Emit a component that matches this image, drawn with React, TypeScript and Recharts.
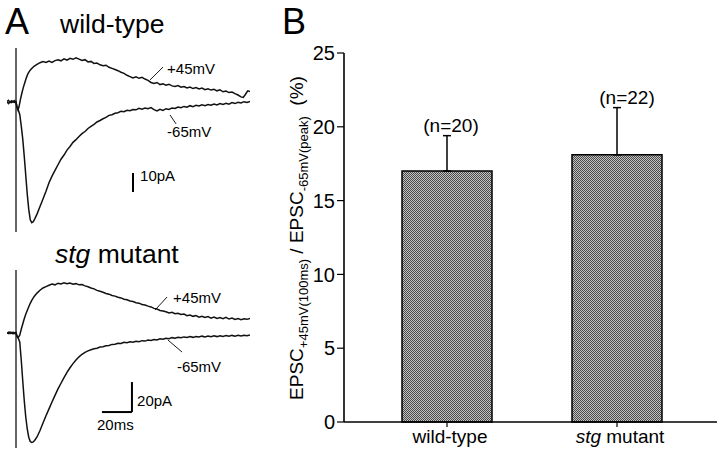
import React from 'react';
import {
  LineChart,
  Line,
  XAxis,
  YAxis,
  ReferenceLine,
  ReferenceDot,
  BarChart,
  Bar,
  ErrorBar,
} from 'recharts';

const FONT = '"Liberation Sans", Arial, Helvetica, sans-serif';

// ---------- Panel A: EPSC traces, [time (ms), current (pA)] ----------
const wtPlus45: [number, number][] = [
  [-6, 0.5], [-5, -0.3], [-4, 0.8], [-3, 0.2], [-2, 1.0], [-1, 0.3], [0, 0.6], [0.7, -2.5], [1.3, -3.7],
  [2, -2], [3, 2], [4, 5.5], [5, 8.5], [6, 11], [7, 13.5], [8, 15.5], [9, 16.8], [10, 17.8], [12, 19.3],
  [14, 20.3], [16, 21.2], [18, 21.8], [20, 21.3], [22, 22.1], [24, 21.4], [26, 22.3], [28, 22.8], [30, 22.2],
  [32, 23.2], [34, 22.6], [36, 23.5], [38, 23.0], [40, 23.8], [42, 23.1], [44, 22.4], [46, 22.8], [48, 21.6],
  [50, 21.9], [52, 20.8], [54, 21.0], [56, 20.1], [58, 19.6], [60, 19.9], [62, 18.8], [64, 18.2], [66, 17.6],
  [68, 17.0], [70, 16.2], [72, 15.6], [74, 14.6], [76, 13.9], [78, 13.2], [80, 13.8], [82, 13.0], [84, 13.5],
  [86, 12.6], [88, 11.9], [90, 10.8], [92, 10.3], [94, 10.8], [96, 9.7], [98, 10.1], [100, 9.4], [102, 9.9],
  [104, 9.0], [106, 8.7], [108, 9.2], [110, 8.3], [112, 8.7], [114, 7.9], [116, 8.4], [118, 7.6], [120, 8.1],
  [122, 7.4], [124, 7.9], [126, 7.0], [128, 7.5], [130, 6.8], [132, 7.2], [134, 6.4], [136, 6.9], [138, 5.9],
  [140, 6.3], [142, 5.5], [144, 5.8], [146, 4.9], [148, 4.2], [150, 3.2], [151.5, 2.9], [153, 4.6], [154.5, 6.4],
  [156, 6.0],
];

const wtMinus65: [number, number][] = [
  [-6, 0.8], [-5, 1.4], [-4, 0.2], [-3, 1.1], [-2, 0.4], [-1, 1.2], [0, 0.2], [0.7, -2], [1.5, -3.5],
  [2.5, -6], [3.5, -12], [4.5, -19], [5.5, -28], [6.5, -38], [7.5, -48], [8.5, -56], [9.5, -61.5], [10.5, -63],
  [11.5, -62.5], [12.5, -61], [14, -58.5], [16, -54.5], [18, -50.5], [20, -46.5], [22, -42], [24, -38.5],
  [26, -35.5], [28, -32.5], [30, -29.6], [32, -27.4], [34, -24.8], [36, -22.9], [38, -20.7], [40, -19.3],
  [42, -17.6], [44, -16.1], [46, -15.0], [48, -13.4], [50, -12.3], [52, -11.2], [54, -10.0], [56, -9.2],
  [58, -8.3], [60, -7.6], [62, -6.5], [64, -6.2], [66, -5.4], [68, -5.1], [70, -4.3], [72, -4.6], [74, -3.8],
  [76, -4.1], [78, -3.4], [80, -3.6], [82, -2.8], [84, -3.3], [86, -2.7], [88, -3.0], [90, -2.4], [92, -3.5],
  [94, -4.2], [96, -3.3], [98, -3.9], [100, -3.0], [102, -3.4], [104, -2.6], [106, -2.9], [108, -2.1],
  [110, -2.5], [112, -1.8], [114, -2.2], [116, -1.4], [118, -1.9], [120, -1.2], [122, -1.6], [124, -0.9],
  [126, -1.4], [128, -0.8], [130, -1.2], [132, -0.5], [134, -1.0], [136, -0.3], [138, -0.8], [140, -0.1],
  [142, -0.6], [144, 0.2], [146, -0.3], [148, 0.4], [150, 0.0], [152, 0.7], [154, 0.3], [156, 0.8],
];

const stgPlus45: [number, number][] = [
  [-6, 0.3], [-5, -0.4], [-4, 0.6], [-3, -0.2], [-2, 0.5], [-1, -0.3], [0, 0.4], [0.7, -2], [1.5, -3],
  [2.5, -1.5], [3.5, 2.5], [4.5, 6], [5.5, 9.5], [6.5, 12.5], [7.5, 15], [8.5, 17.5], [9.5, 19.8], [10.5, 21.8],
  [12, 24.2], [14, 26.6], [16, 28.5], [18, 30.0], [20, 30.9], [22, 31.8], [24, 32.6], [26, 32.1], [28, 33.2],
  [30, 32.7], [32, 33.4], [34, 32.8], [36, 33.3], [38, 32.5], [40, 32.9], [42, 32.1], [44, 32.3], [46, 31.4],
  [48, 30.8], [50, 30.0], [52, 29.4], [54, 28.4], [56, 27.8], [58, 27.2], [60, 26.3], [62, 25.9], [64, 25.0],
  [66, 24.6], [68, 23.8], [70, 23.4], [72, 22.5], [74, 22.2], [76, 21.3], [78, 21.0], [80, 20.2], [82, 19.9],
  [84, 19.0], [86, 18.7], [88, 17.9], [90, 17.4], [92, 16.4], [94, 16.0], [96, 15.0], [98, 14.7], [100, 14.2],
  [102, 13.4], [104, 13.8], [106, 12.9], [108, 13.2], [110, 12.3], [112, 12.6], [114, 11.5], [116, 12.0],
  [118, 11.1], [120, 11.6], [122, 10.6], [124, 11.2], [126, 10.3], [128, 10.9], [130, 9.9], [132, 10.6],
  [134, 9.7], [136, 10.3], [138, 9.5], [140, 10.4], [142, 9.3], [144, 9.9], [146, 9.0], [148, 9.6], [150, 8.9],
  [152, 9.5], [154, 9.1], [156, 9.7],
];

const stgMinus65: [number, number][] = [
  [-6, -0.3], [-5, 0.5], [-4, -0.4], [-3, 0.3], [-2, -0.5], [-1, 0.2], [0, -0.4], [0.7, -2.5], [1.5, -3.5],
  [2.5, -6], [3.5, -18], [4.5, -32], [5.5, -45], [6.5, -56], [7.5, -64], [8.5, -69.5], [9.5, -72.3], [10.5, -73],
  [11.5, -72.6], [12.5, -71.5], [14, -69.3], [16, -65], [18, -60], [20, -55.2], [22, -50.6], [24, -46],
  [26, -41.6], [28, -37.3], [30, -33.5], [32, -29.8], [34, -26.2], [36, -23.2], [38, -20.4], [40, -18.0],
  [42, -15.9], [44, -14.2], [46, -12.9], [48, -11.9], [50, -11.2], [52, -10.5], [54, -10.1], [56, -9.4],
  [58, -9.1], [60, -8.5], [62, -8.3], [64, -7.6], [66, -7.5], [68, -6.8], [70, -7.0], [72, -6.2], [74, -6.5],
  [76, -5.9], [78, -6.2], [80, -5.5], [82, -5.8], [84, -5.1], [86, -5.4], [88, -4.7], [90, -5.0], [92, -4.3],
  [94, -4.6], [96, -3.9], [98, -4.2], [100, -3.5], [102, -3.8], [104, -3.1], [106, -3.5], [108, -2.8],
  [110, -3.2], [112, -2.6], [114, -3.0], [116, -2.4], [118, -2.9], [120, -2.3], [122, -2.7], [124, -2.1],
  [126, -2.6], [128, -2.0], [130, -2.5], [132, -1.9], [134, -2.4], [136, -1.8], [138, -2.3], [140, -1.7],
  [142, -2.2], [144, -1.6], [146, -2.1], [148, -1.5], [150, -2.0], [152, -1.5], [154, -1.9], [156, -1.4],
];

const traceTimeDomain: [number, number] = [-6, 156];
const wtCurrentDomain: [number, number] = [-70, 30];
const stgCurrentDomain: [number, number] = [-77, 43];

// annotations in data units (ms, pA)
const wtAnno = {
  artifact: [[0, 28.9], [0, -67.9]],
  lead45: [[89.3, 12.1], [98, 18.9]],
  lead65: [[102.7, -6.3], [106.7, -11]],
  scaleV: [[78, -36.8], [78, -46.8]],
  label45: [100.7, 15.3],
  label65: [100.7, -17.9],
  labelScale: [82.7, -41],
};
const stgAnno = {
  artifact: [[0, 42], [0, -76.7]],
  lead45: [[92.7, 15.3], [100.7, 24]],
  lead65: [[101.3, -4.7], [110.7, -12.7]],
  scaleV: [[77.3, -32.7], [77.3, -52.7]],
  scaleH: [[57.3, -52.7], [77.3, -52.7]],
  label45: [104.7, 20],
  label65: [107.3, -26],
  labelScaleV: [80.7, -48.7],
  labelScaleH: [54, -64.7],
};

// ---------- Panel B: bar chart ----------
const categories = ['wild-type', 'stg mutant'];
const ratioMeans = [17.0, 18.1];
const ratioSEM = [2.4, 3.2];
const nLabels = ['(n=20)', '(n=22)'];
const nLabelDx = [4, 10];
const yTicks = [0, 5, 10, 15, 20, 25];

const barData = categories.map((c, i) => ({
  cat: c,
  mean: ratioMeans[i],
  err: [0, ratioSEM[i]],
  top: ratioMeans[i] + ratioSEM[i],
  n: nLabels[i],
  dx: nLabelDx[i],
}));

const toPts = (arr: [number, number][]) => arr.map(([t, i]) => ({ t, i }));

const textShape = (txt: string, size: number) => (p: any) => (
  <text x={p.cx} y={p.cy} fontSize={size} fontFamily={FONT} fill="#000">
    {txt}
  </text>
);

const seg = (s: number[][]) => [
  { x: s[0][0], y: s[0][1] },
  { x: s[1][0], y: s[1][1] },
];

function TracePanel(props: {
  plus: [number, number][];
  minus: [number, number][];
  domainY: [number, number];
  top: number;
  bottom: number;
  anno: any;
  scaleText: string;
  timeText?: string;
}) {
  const { plus, minus, domainY, top, bottom, anno } = props;
  return (
    <LineChart width={260} height={454} margin={{ top, bottom, left: 7, right: 10 }}>
      <XAxis type="number" dataKey="t" domain={traceTimeDomain} hide allowDataOverflow />
      <YAxis type="number" domain={domainY} hide allowDataOverflow />
      <ReferenceLine segment={seg(anno.artifact)} stroke="#000" strokeWidth={1.2} ifOverflow="visible" />
      <Line data={toPts(plus)} dataKey="i" type="linear" dot={false} stroke="#111" strokeWidth={1.5} isAnimationActive={false} />
      <Line data={toPts(minus)} dataKey="i" type="linear" dot={false} stroke="#111" strokeWidth={1.5} isAnimationActive={false} />
      <ReferenceLine segment={seg(anno.lead45)} stroke="#000" strokeWidth={0.9} ifOverflow="visible" />
      <ReferenceLine segment={seg(anno.lead65)} stroke="#000" strokeWidth={0.9} ifOverflow="visible" />
      <ReferenceLine segment={seg(anno.scaleV)} stroke="#000" strokeWidth={2} ifOverflow="visible" />
      {anno.scaleH && (
        <ReferenceLine segment={seg(anno.scaleH)} stroke="#000" strokeWidth={2} ifOverflow="visible" />
      )}
      <ReferenceDot x={anno.label45[0]} y={anno.label45[1]} r={0} ifOverflow="visible" shape={textShape('+45mV', 15)} />
      <ReferenceDot x={anno.label65[0]} y={anno.label65[1]} r={0} ifOverflow="visible" shape={textShape('-65mV', 15)} />
      {anno.labelScale && (
        <ReferenceDot x={anno.labelScale[0]} y={anno.labelScale[1]} r={0} ifOverflow="visible" shape={textShape(props.scaleText, 15)} />
      )}
      {anno.labelScaleV && (
        <ReferenceDot x={anno.labelScaleV[0]} y={anno.labelScaleV[1]} r={0} ifOverflow="visible" shape={textShape(props.scaleText, 15)} />
      )}
      {anno.labelScaleH && props.timeText && (
        <ReferenceDot x={anno.labelScaleH[0]} y={anno.labelScaleH[1]} r={0} ifOverflow="visible" shape={textShape(props.timeText, 15)} />
      )}
    </LineChart>
  );
}

const XTick = (p: any) => {
  const v = p.payload.value as string;
  const common = {
    x: p.x + 3,
    y: p.y,
    dy: 14,
    textAnchor: 'middle' as const,
    fontSize: 19,
    fontFamily: FONT,
    fill: '#000',
  };
  if (v.startsWith('stg')) {
    return (
      <text {...common}>
        <tspan fontStyle="italic">stg</tspan>
        <tspan> mutant</tspan>
      </text>
    );
  }
  return <text {...common}>{v}</text>;
};

const nLabelShape = (txt: string, dx: number) => (p: any) => (
  <text x={p.cx + dx} y={p.cy - 4} textAnchor="middle" fontSize={19} fontFamily={FONT} fill="#000">
    {txt}
  </text>
);

export default function App() {
  return (
    <div
      style={{
        position: 'absolute',
        left: 0,
        top: 0,
        width: 720,
        height: 454,
        background: '#fff',
        overflow: 'hidden',
        fontFamily: FONT,
      }}
    >
      <div style={{ position: 'absolute', left: 0, top: 0 }}>
        <TracePanel plus={wtPlus45} minus={wtMinus65} domainY={wtCurrentDomain} top={46} bottom={218} anno={wtAnno} scaleText="10pA" />
      </div>
      <div style={{ position: 'absolute', left: 0, top: 0 }}>
        <TracePanel
          plus={stgPlus45}
          minus={stgMinus65}
          domainY={stgCurrentDomain}
          top={268.5}
          bottom={5.5}
          anno={stgAnno}
          scaleText="20pA"
          timeText="20ms"
        />
      </div>
      <div style={{ position: 'absolute', left: 250, top: 0 }}>
        <BarChart width={470} height={454} data={barData} margin={{ top: 53, right: 3, bottom: 2, left: 0 }}>
          <defs>
            <pattern id="dither" width="2" height="2" patternUnits="userSpaceOnUse">
              <rect width="2" height="2" fill="#c2c2c2" />
              <rect width="1" height="1" fill="#4a4a4a" />
              <rect x="1" y="1" width="1" height="1" fill="#4a4a4a" />
            </pattern>
          </defs>
          <XAxis
            dataKey="cat"
            type="category"
            height={30}
            padding={{ left: 18, right: 15 }}
            axisLine={{ stroke: '#000', strokeWidth: 1.6 }}
            tickLine={{ stroke: '#000', strokeWidth: 1.2 }}
            tickSize={5}
            tickMargin={2}
            tick={<XTick />}
            interval={0}
          />
          <YAxis
            type="number"
            domain={[0, 25]}
            ticks={yTicks}
            width={94}
            axisLine={{ stroke: '#000', strokeWidth: 1.6 }}
            tickLine={{ stroke: '#000', strokeWidth: 1.2 }}
            tickSize={7}
            tickMargin={2}
            tick={{ fontSize: 20, fill: '#000', fontFamily: FONT }}
            allowDecimals={false}
          />
          <Bar dataKey="mean" barSize={90} fill="url(#dither)" stroke="#000" strokeWidth={1.5} isAnimationActive={false}>
            <ErrorBar dataKey="err" width={4} stroke="#000" strokeWidth={1.5} direction="y" />
          </Bar>
          {barData.map((d) => (
            <ReferenceDot key={d.cat} x={d.cat} y={d.top} r={0} ifOverflow="visible" shape={nLabelShape(d.n, d.dx)} />
          ))}
        </BarChart>
      </div>
      <svg
        width={720}
        height={454}
        style={{ position: 'absolute', left: 0, top: 0, pointerEvents: 'none' }}
      >
        <g fontFamily={FONT} fill="#000">
          <text x={5} y={34} fontSize={36}>A</text>
          <text x={60} y={33} fontSize={26.5}>wild-type</text>
          <text x={55} y={263} fontSize={26.5}>
            <tspan fontStyle="italic">stg</tspan>
            <tspan> mutant</tspan>
          </text>
          <text x={282} y={34} fontSize={36}>B</text>
          <text transform="translate(303,238) rotate(-90)" textAnchor="middle" fontSize={19}>
            <tspan>EPSC</tspan>
            <tspan fontSize={13} dy={5}>+45mV(100ms)</tspan>
            <tspan dy={-5}> / EPSC</tspan>
            <tspan fontSize={13} dy={5}>-65mV(peak)</tspan>
            <tspan dy={-5}>{'\u00a0\u00a0(%)'}</tspan>
          </text>
        </g>
      </svg>
    </div>
  );
}
